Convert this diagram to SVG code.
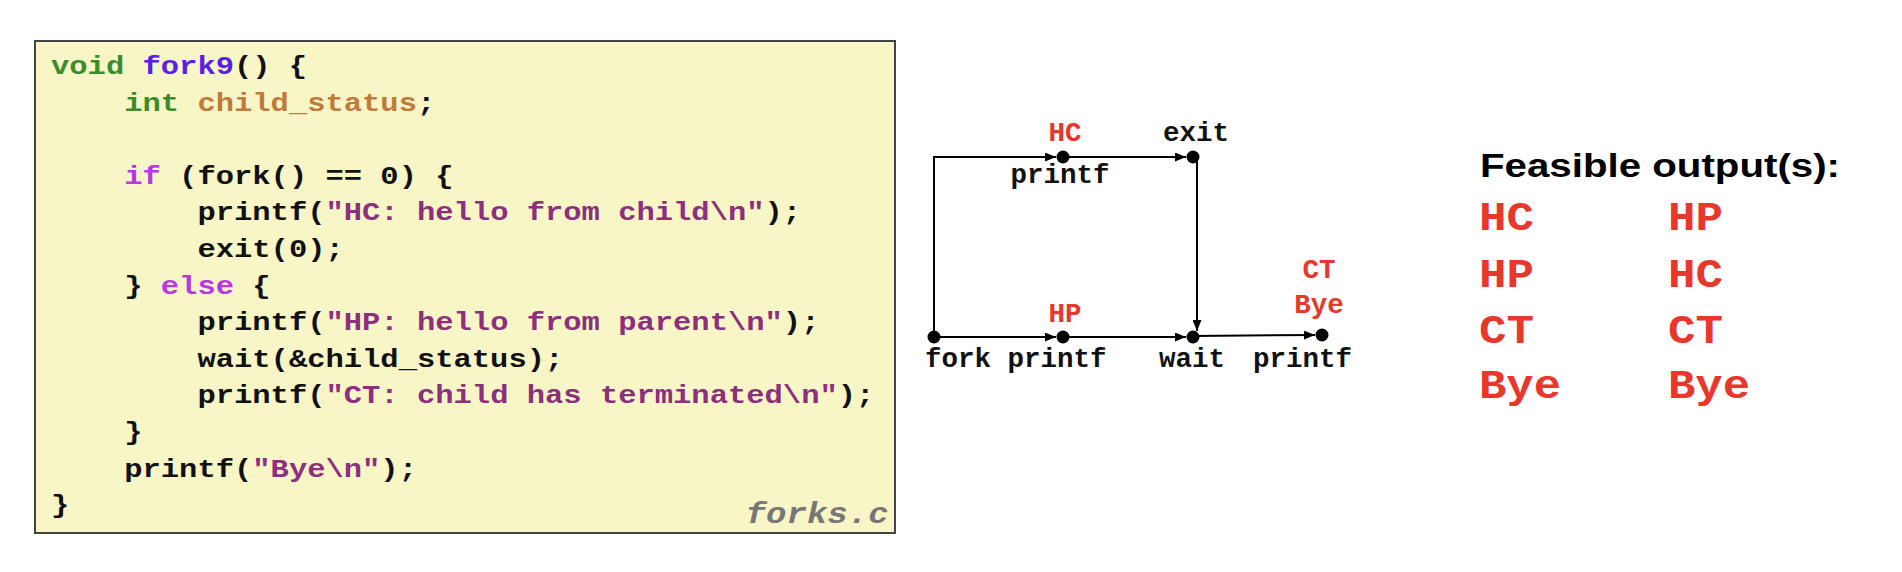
<svg xmlns="http://www.w3.org/2000/svg" width="1902" height="572" viewBox="0 0 1902 572">
<defs>
<style>
.code{font-family:"Liberation Mono","Courier New",monospace;font-weight:bold;font-size:26px;fill:#111}
.kw{fill:#3d8c2c}
.fn{fill:#5a1fe6}
.var{fill:#c07a3a}
.ctl{fill:#b835e8}
.str{fill:#8c2f7c}
.lbl{font-family:"Liberation Mono","Courier New",monospace;font-weight:bold;font-size:27.5px;fill:#111}
.red{fill:#e8372b}
.out{font-family:"Liberation Mono","Courier New",monospace;font-weight:bold;font-size:41px;fill:#e8372b}
.edge{stroke:#000;stroke-width:2;fill:none}
.node{fill:#000}
</style>
<marker id="ah" viewBox="0 0 11 9" refX="11" refY="4.5" markerWidth="11" markerHeight="9" markerUnits="userSpaceOnUse" orient="auto">
<path d="M0,0 L11,4.5 L0,9 z" fill="#000"/>
</marker>
</defs>
<rect width="1902" height="572" fill="#fff"/>

<g id="code">
<rect x="35" y="41" width="860" height="492" fill="#f8f6c6" stroke="#444" stroke-width="2"/>
<g transform="matrix(1.173,0,0,1,0,0)">
<text class="code" x="43.5" y="74"><tspan class="kw">void</tspan> <tspan class="fn">fork9</tspan>() {</text>
<text class="code" x="105.9" y="110.6"><tspan class="kw">int</tspan> <tspan class="var">child_status</tspan>;</text>
<text class="code" x="105.9" y="184"><tspan class="ctl">if</tspan> (fork() == 0) {</text>
<text class="code" x="168.3" y="220.5">printf(<tspan class="str">"HC: hello from child\n"</tspan>);</text>
<text class="code" x="168.3" y="257">exit(0);</text>
<text class="code" x="105.9" y="293.6">} <tspan class="ctl">else</tspan> {</text>
<text class="code" x="168.3" y="330">printf(<tspan class="str">"HP: hello from parent\n"</tspan>);</text>
<text class="code" x="168.3" y="366.7">wait(&amp;child_status);</text>
<text class="code" x="168.3" y="403">printf(<tspan class="str">"CT: child has terminated\n"</tspan>);</text>
<text class="code" x="105.9" y="440">}</text>
<text class="code" x="105.9" y="476.7">printf(<tspan class="str">"Bye\n"</tspan>);</text>
<text class="code" x="43.5" y="513">}</text>
<text x="757.5" y="523" text-anchor="end" font-family="Liberation Mono, Courier New, monospace" font-weight="bold" font-style="italic" font-size="29" fill="#777">forks.c</text>
</g>
</g>

<g id="connectors">
<polyline class="edge" points="934,337 934,157 1056,157" marker-end="url(#ah)"/>
<line class="edge" x1="934" y1="337" x2="1056" y2="337" marker-end="url(#ah)"/>
<line class="edge" x1="1063" y1="157" x2="1186" y2="157" marker-end="url(#ah)"/>
<line class="edge" x1="1063" y1="337" x2="1186" y2="337" marker-end="url(#ah)"/>
<line class="edge" x1="1197" y1="157" x2="1197" y2="331" marker-end="url(#ah)"/>
<line class="edge" x1="1193" y1="336" x2="1315" y2="335" marker-end="url(#ah)"/>
</g>

<g id="node-fork">
<circle class="node" cx="934" cy="337" r="6.5"/>
<text class="lbl" x="925" y="367">fork printf</text>
</g>
<g id="node-hc">
<circle class="node" cx="1063" cy="157" r="6.5"/>
<text class="lbl red" x="1065" y="141" text-anchor="middle">HC</text>
<text class="lbl" x="1060" y="183" text-anchor="middle">printf</text>
</g>
<g id="node-exit">
<circle class="node" cx="1193" cy="157" r="6.5"/>
<text class="lbl" x="1196" y="141" text-anchor="middle">exit</text>
</g>
<g id="node-hp">
<circle class="node" cx="1063" cy="337" r="6.5"/>
<text class="lbl red" x="1065" y="322" text-anchor="middle">HP</text>
</g>
<g id="node-wait">
<circle class="node" cx="1193" cy="337" r="6.5"/>
<text class="lbl" x="1159" y="367">wait</text>
</g>
<g id="node-printf2">
<circle class="node" cx="1322" cy="335" r="6.5"/>
<text class="lbl red" x="1319" y="278" text-anchor="middle">CT</text>
<text class="lbl red" x="1319" y="313" text-anchor="middle">Bye</text>
<text class="lbl" x="1253" y="367">printf</text>
</g>

<g id="outputs">
<text x="1480" y="177" font-family="Liberation Sans, Arial, sans-serif" font-weight="bold" font-size="34" fill="#000" textLength="360" lengthAdjust="spacingAndGlyphs">Feasible output(s):</text>
<text class="out" x="1479" y="230" textLength="55" lengthAdjust="spacingAndGlyphs">HC</text>
<text class="out" x="1479" y="287" textLength="55" lengthAdjust="spacingAndGlyphs">HP</text>
<text class="out" x="1479" y="343" textLength="55" lengthAdjust="spacingAndGlyphs">CT</text>
<text class="out" x="1479" y="398" textLength="82" lengthAdjust="spacingAndGlyphs">Bye</text>
<text class="out" x="1668" y="230" textLength="55" lengthAdjust="spacingAndGlyphs">HP</text>
<text class="out" x="1668" y="287" textLength="55" lengthAdjust="spacingAndGlyphs">HC</text>
<text class="out" x="1668" y="343" textLength="55" lengthAdjust="spacingAndGlyphs">CT</text>
<text class="out" x="1668" y="398" textLength="82" lengthAdjust="spacingAndGlyphs">Bye</text>
</g>
</svg>
